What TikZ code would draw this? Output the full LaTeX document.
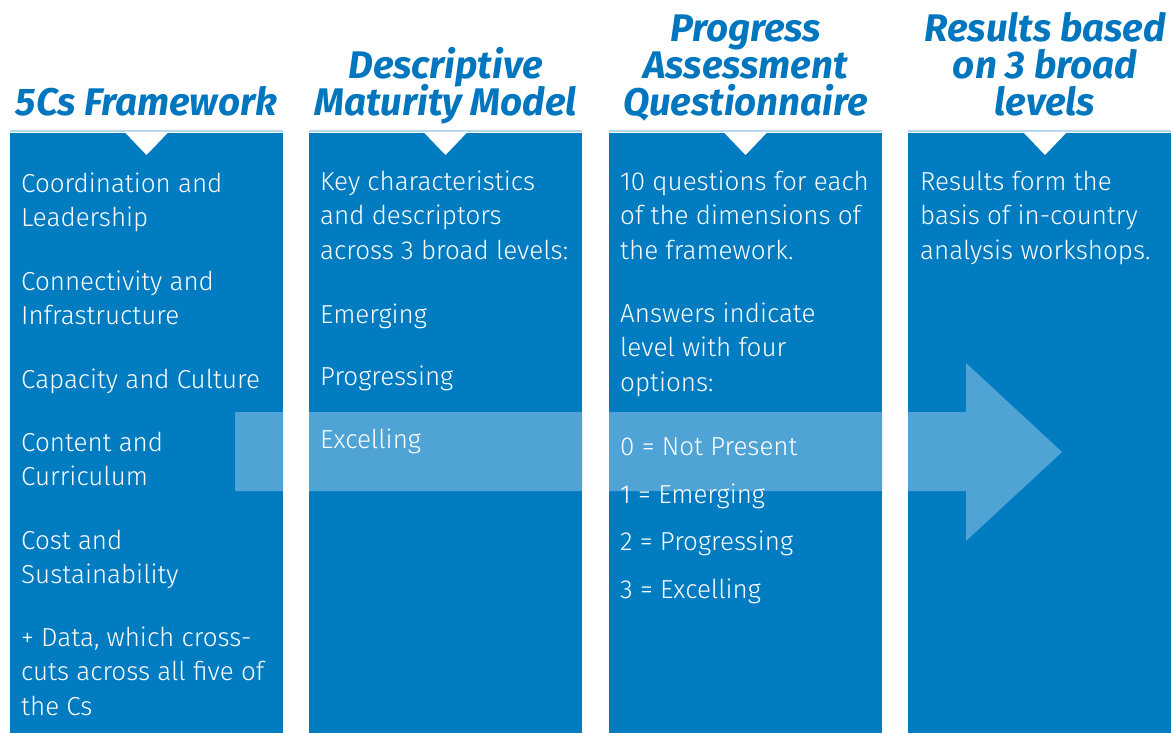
\documentclass[tikz,border=0pt]{standalone}
\usepackage{fontspec}
% light body face, falling back to the regular weight
\IfFontExistsTF{Fira Sans Light}{\newfontfamily\bodyfont{Fira Sans Light}}{%
  \IfFontExistsTF{Open Sans Light}{\newfontfamily\bodyfont{Open Sans Light}}{%
    \IfFontExistsTF{Lato Light}{\newfontfamily\bodyfont{Lato Light}}{%
      \newfontfamily\bodyfont{Fira Sans}}}}
\newfontfamily\titlefont{Fira Sans}
\definecolor{panelblue}{RGB}{2,124,193}
\definecolor{titleblue}{RGB}{0,118,190}
\definecolor{bandblue}{RGB}{80,163,213}
\definecolor{rulelight}{RGB}{178,214,238}
\tikzset{
  panel/.style={fill=panelblue, draw=none},
  topline/.style={draw=rulelight, line width=1.2pt},
  notch/.style={fill=white, draw=none},
  heading/.style={font=\titlefont\bfseries\itshape\fontsize{38.5}{37}\selectfont, text=titleblue, inner sep=0pt, anchor=base},
  % multi-line nodes are anchored at the baseline of their last line
  bodytext/.style={font=\bodyfont\fontsize{26}{34.5}\selectfont, text=white, inner sep=0pt, anchor=base west, align=left},
}
\begin{document}
\begin{tikzpicture}[x=1pt,y=-1pt]
\useasboundingbox (0,0) rectangle (1171,733);
\fill[white] (0,0) rectangle (1171,733);

% four panels
\foreach \l/\r in {10/283, 309/582, 609/882, 908/1182}{
  \fill[panel] (\l,133) rectangle (\r,733);
  \draw[topline] (\l,131) -- (\r,131);
}

% light band with arrow head, visible only on the panels
\begin{scope}
  \clip (10,133) rectangle (283,733) (309,133) rectangle (582,733)
        (609,133) rectangle (882,733) (908,133) rectangle (1182,733);
  \fill[bandblue] (235,412) -- (966,412) -- (966,363) -- (1062,452)
        -- (966,541) -- (966,491) -- (235,491) -- cycle;
\end{scope}

% notches under the headings
\foreach \c in {146.5, 445.5, 745.5, 1045}{
  \fill[notch] (\c-22,132) -- (\c+22,132) -- (\c,155) -- cycle;
}

% headings
\node[heading] (h1) at (146.5,116) {5Cs Framework};
\node[heading] (h2a) at (445.5,79) {Descriptive};
\node[heading] (h2b) at (445.5,116) {Maturity Model};
\node[heading] (h3a) at (745.5,42) {Progress};
\node[heading] (h3b) at (745.5,79) {Assessment};
\node[heading] (h3c) at (745.5,116) {Questionnaire};
\node[heading] (h4a) at (1045,42) {Results based};
\node[heading] (h4b) at (1045,79) {on 3 broad};
\node[heading] (h4c) at (1045,116) {levels};

% panel 1
\node[bodytext] (p1a) at (21,226.5) {Coordination and\\Leadership};
\node[bodytext] (p1b) at (21,324.5) {Connectivity and\\Infrastructure};
\node[bodytext] (p1c) at (21,388) {Capacity and Culture};
\node[bodytext] (p1d) at (21,485.5) {Content and\\Curriculum};
\node[bodytext] (p1e) at (21,583.5) {Cost and\\Sustainability};
\node[bodytext] (p1f) at (21,715) {+ Data, which cross-\\cuts across all five of\\the Cs};

% panel 2
\node[bodytext] (p2a) at (320,259) {Key characteristics\\and descriptors\\across 3 broad levels:};
\node[bodytext] (p2b) at (320,323) {Emerging};
\node[bodytext] (p2c) at (320,385) {Progressing};
\node[bodytext] (p2d) at (320,448) {Excelling};

% panel 3
\node[bodytext] (p3a) at (620,259) {10 questions for each\\of the dimensions of\\the framework.};
\node[bodytext] (p3b) at (620,391) {Answers indicate\\level with four\\options:};
\node[bodytext] (p3c) at (620,455) {0 = Not Present};
\node[bodytext] (p3d) at (620,503) {1 = Emerging};
\node[bodytext] (p3e) at (620,550) {2 = Progressing};
\node[bodytext] (p3f) at (620,598) {3 = Excelling};

% panel 4
\node[bodytext] (p4a) at (920,259) {Results form the\\basis of in-country\\analysis workshops.};
\end{tikzpicture}
\end{document}
